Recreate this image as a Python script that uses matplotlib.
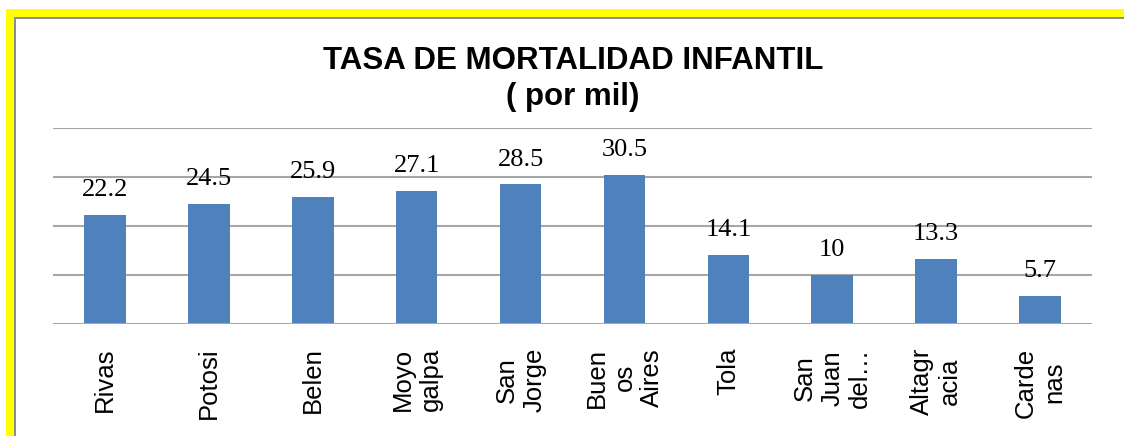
import matplotlib
matplotlib.use("Agg")
import matplotlib.pyplot as plt
from matplotlib.patches import Rectangle

categories = ["Rivas", "Potosi", "Belen", "Moyo\ngalpa", "San\nJorge",
              "Buen\nos\nAires", "Tola", "San\nJuan\ndel…", "Altagr\nacia", "Carde\nnas"]
values = [22.2, 24.5, 25.9, 27.1, 28.5, 30.5, 14.1, 10, 13.3, 5.7]
value_labels = ["22.2", "24.5", "25.9", "27.1", "28.5", "30.5", "14.1", "10", "13.3", "5.7"]
gridlines = [10, 20, 30, 40]

W, H = 1124, 436
fig = plt.figure(figsize=(W / 100, H / 100), dpi=100)
fig.patch.set_facecolor("white")

def fx(px):
    return px / W

def fy(py):
    return 1 - py / H

# Frame decorations (yellow border + gray inner line)
fig.add_artist(Rectangle((fx(6), fy(17)), fx(W - 6), 8 / H, transform=fig.transFigure,
                         facecolor="#FFFF00", edgecolor="none"))
fig.add_artist(Rectangle((fx(6), 0), 8 / W, fy(9), transform=fig.transFigure,
                         facecolor="#FFFF00", edgecolor="none"))
fig.add_artist(Rectangle((fx(14), fy(19)), fx(W - 14), 2 / H, transform=fig.transFigure,
                         facecolor="#8C8C8C", edgecolor="none"))
fig.add_artist(Rectangle((fx(14), 0), 2 / W, fy(17), transform=fig.transFigure,
                         facecolor="#8C8C8C", edgecolor="none"))

left, right, top, bottom = 53, 1092, 128, 324
ax = fig.add_axes([fx(left), fy(bottom), fx(right - left), (bottom - top) / H])
ax.set_facecolor("none")

x = list(range(len(categories)))
bars = ax.bar(x, values, width=0.40, color="#4F81BD", zorder=3)
ax.set_xlim(-0.5, len(categories) - 0.5)
ax.set_ylim(0, 40)

for g in gridlines:
    ax.axhline(g, color="#A6A6A6", linewidth=1.5, zorder=1)
ax.axhline(0, color="#A6A6A6", linewidth=1.5, zorder=4)

for xi, v, lab in zip(x, values, value_labels):
    ax.annotate(lab, (xi, v), xytext=(0, 13.5), textcoords="offset points",
                ha="center", va="baseline", fontsize=19,
                family=["Liberation Serif", "DejaVu Serif"], color="black")

ax.set_xticks(x)
ax.set_xticklabels(categories, rotation=90, ha="center", va="top",
                   multialignment="center", fontsize=18.5,
                   family=["Liberation Sans", "DejaVu Sans"])
ax.tick_params(axis="x", length=0, pad=17)
ax.set_yticks([])
for s in ax.spines.values():
    s.set_visible(False)

tx = 573
fig.text(fx(tx), fy(69), "TASA DE MORTALIDAD INFANTIL", ha="center", va="baseline",
         fontsize=22.5, fontweight="bold", family=["Liberation Sans", "DejaVu Sans"])
fig.text(fx(tx), fy(105), "( por mil)", ha="center", va="baseline",
         fontsize=22.5, fontweight="bold", family=["Liberation Sans", "DejaVu Sans"])

fig.savefig("out.png", dpi=100)
